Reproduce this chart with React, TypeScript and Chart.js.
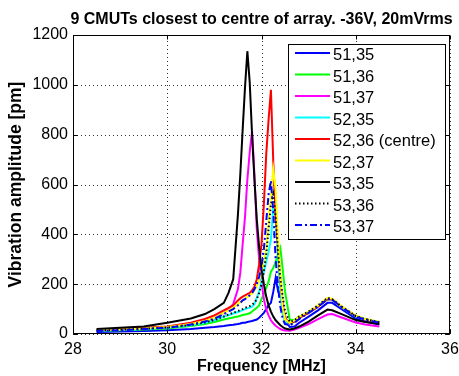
import React, { useEffect, useRef } from "react";
import { Chart, registerables } from "chart.js";

Chart.register(...registerables);

// ---------- data ----------
const FREQ_MHZ = [
  28.5, 29.0, 29.5, 30.0, 30.5, 30.8, 31.0, 31.2, 31.3, 31.4,
  31.5, 31.55, 31.6, 31.65, 31.7, 31.75, 31.8, 31.85, 31.9, 31.95,
  32.0, 32.05, 32.1, 32.15, 32.2, 32.25, 32.3, 32.35, 32.4, 32.45,
  32.5, 32.6, 32.7, 32.8, 33.0, 33.2, 33.4, 33.5, 33.7, 34.0,
  34.2, 34.5,
];

const S_51_35 = [
  8, 10, 12, 15, 20, 25, 28, 32, 35, 37,
  40, 42, 45, 45, 48, 50, 52, 55, 58, 65,
  75, 85, 100, 115, 125, 170, 225, 175, 190, 100,
  55, 28, 30, 45, 70, 95, 125, 125, 100, 62,
  50, 38,
];
const S_51_36 = [
  12, 15, 18, 22, 32, 40, 48, 58, 62, 66,
  70, 73, 76, 78, 80, 83, 90, 98, 105, 115,
  140, 160, 185, 210, 250, 265, 290, 320, 345, 260,
  170, 58, 55, 70, 88, 112, 140, 138, 110, 72,
  60, 48,
];
const S_51_37 = [
  15, 18, 22, 28, 40, 52, 65, 85, 100, 120,
  180, 245, 360, 470, 620, 730, 815, 640, 420, 300,
  210, 140, 100, 75, 55, 43, 33, 26, 20, 16,
  14, 13, 18, 25, 40, 60, 78, 80, 66, 46,
  38, 30,
];
const S_52_35 = [
  13, 16, 20, 25, 35, 45, 55, 70, 75, 82,
  88, 92, 96, 100, 103, 106, 110, 120, 145, 170,
  210, 250, 290, 330, 380, 510, 470, 300, 155, 80,
  50, 40, 50, 65, 85, 110, 140, 137, 108, 70,
  58, 46,
];
const S_52_36 = [
  15, 20, 25, 30, 45, 60, 75, 95, 105, 115,
  135, 143, 150, 155, 160, 165, 175, 190, 220, 280,
  360, 520, 720, 860, 980, 690, 480, 360, 217, 120,
  65, 42, 50, 65, 85, 110, 140, 138, 110, 72,
  58, 46,
];
const S_52_37 = [
  15, 18, 22, 28, 40, 52, 65, 85, 95, 105,
  120, 128, 135, 142, 148, 155, 162, 175, 190, 215,
  250, 290, 340, 450, 560, 660, 580, 390, 230, 110,
  58, 45, 55, 70, 90, 115, 145, 142, 112, 74,
  60, 48,
];
const S_53_35 = [
  20, 25, 30, 45, 62, 80, 100, 125, 165, 220,
  480, 640, 820, 990, 1135, 1010, 800, 620, 460, 350,
  260, 200, 150, 115, 90, 70, 55, 45, 35, 28,
  22, 18, 22, 30, 50, 75, 98, 95, 80, 56,
  48, 40,
];
const S_53_36 = [
  14, 17, 21, 26, 36, 46, 56, 70, 78, 85,
  92, 96, 100, 105, 108, 112, 118, 125, 140, 165,
  200, 250, 320, 420, 520, 560, 470, 330, 220, 150,
  90, 48, 55, 70, 90, 115, 145, 140, 110, 72,
  60, 47,
];
const S_53_37 = [
  12, 15, 20, 25, 38, 50, 62, 80, 90, 100,
  115, 125, 135, 140, 148, 155, 165, 180, 200, 230,
  270, 340, 450, 560, 615, 490, 300, 190, 110, 60,
  40, 35, 45, 60, 85, 110, 140, 138, 108, 70,
  58, 45,
];

const SERIES_VALUES = [
  S_51_35, S_51_36, S_51_37, S_52_35, S_52_36, S_52_37, S_53_35, S_53_36, S_53_37,
];
const SERIES_LABELS = [
  "51,35", "51,36", "51,37", "52,35", "52,36 (centre)", "52,37", "53,35", "53,36", "53,37",
];
const SERIES_COLORS = [
  "#0000ff", "#00ff00", "#ff00ff", "#00ffff", "#ff0000", "#ffff00", "#000000", "#000000", "#0000ff",
];
const SERIES_DASH: number[][] = [[], [], [], [], [], [], [], [1.5, 2.5], [7, 3, 2, 3]];

const X_TICKS = [28, 30, 32, 34, 36];
const Y_TICKS = [0, 200, 400, 600, 800, 1000, 1200];

const TITLE = "9 CMUTs closest to centre of array. -36V, 20mVrms";
const X_LABEL = "Frequency [MHz]";
const Y_LABEL = "Vibration amplitude [pm]";

const FONT = '"Liberation Sans", Arial, Helvetica, sans-serif';

// ---------- dotted grid (under the data) ----------
const gridPlugin = {
  id: "dottedGrid",
  beforeDatasetsDraw(chart: any) {
    const { ctx, chartArea: a, scales } = chart;
    ctx.save();
    ctx.strokeStyle = "rgba(0,0,0,0.8)";
    ctx.lineWidth = 1;
    ctx.setLineDash([1, 3]);
    ctx.beginPath();
    X_TICKS.forEach((v) => {
      const px = Math.round(scales.x.getPixelForValue(v)) + 0.5;
      ctx.moveTo(px, a.bottom);
      ctx.lineTo(px, a.top);
    });
    Y_TICKS.forEach((v) => {
      const py = Math.round(scales.y.getPixelForValue(v)) + 0.5;
      ctx.moveTo(a.left, py);
      ctx.lineTo(a.right, py);
    });
    ctx.stroke();
    ctx.restore();
  },
};

// ---------- decorations (box, inward ticks, titles, legend) ----------
const decorPlugin = {
  id: "decor",
  afterDraw(chart: any) {
    const { ctx, chartArea: a, scales } = chart;
    const xs = scales.x;
    const ys = scales.y;
    ctx.save();

    ctx.strokeStyle = "#000";
    ctx.lineWidth = 1;
    ctx.setLineDash([]);
    const L = Math.round(a.left) + 0.5;
    const T = Math.round(a.top) + 0.5;
    const R = Math.round(a.right) - 0.5;
    const B = Math.round(a.bottom) - 0.5;
    ctx.strokeRect(L, T, R - L, B - T);

    ctx.beginPath();
    X_TICKS.forEach((v) => {
      const px = Math.round(xs.getPixelForValue(v)) + 0.5;
      ctx.moveTo(px, B);
      ctx.lineTo(px, B - 4);
      ctx.moveTo(px, T);
      ctx.lineTo(px, T + 4);
    });
    Y_TICKS.forEach((v) => {
      const py = Math.round(ys.getPixelForValue(v)) + 0.5;
      ctx.moveTo(L, py);
      ctx.lineTo(L + 4, py);
      ctx.moveTo(R, py);
      ctx.lineTo(R - 4, py);
    });
    ctx.stroke();

    ctx.fillStyle = "#000";
    ctx.font = `bold 16px ${FONT}`;
    ctx.textAlign = "center";
    ctx.textBaseline = "alphabetic";
    const cx = (a.left + a.right) / 2;
    ctx.fillText(TITLE, cx, 24);
    ctx.fillText(X_LABEL, cx, 371);
    ctx.save();
    ctx.font = `bold 17.5px ${FONT}`;
    ctx.translate(21, (a.top + a.bottom) / 2);
    ctx.rotate(-Math.PI / 2);
    ctx.fillText(Y_LABEL, 0, 0);
    ctx.restore();

    const bx = 288.5, by = 44.5, bw = 157, bh = 195;
    ctx.fillStyle = "#fff";
    ctx.fillRect(bx, by, bw, bh);
    ctx.strokeStyle = "#000";
    ctx.lineWidth = 1;
    ctx.strokeRect(bx, by, bw, bh);
    ctx.font = `16.5px ${FONT}`;
    ctx.textAlign = "left";
    ctx.textBaseline = "middle";
    SERIES_LABELS.forEach((lab, i) => {
      const ty = 55.5 + i * 21.5;
      ctx.strokeStyle = SERIES_COLORS[i];
      ctx.lineWidth = 2;
      ctx.setLineDash(SERIES_DASH[i]);
      ctx.beginPath();
      ctx.moveTo(295, ty - 2.5);
      ctx.lineTo(330, ty - 2.5);
      ctx.stroke();
      ctx.setLineDash([]);
      ctx.fillStyle = "#000";
      ctx.fillText(lab, 333, ty);
    });

    ctx.restore();
  },
};

export default function App() {
  const canvasRef = useRef<HTMLCanvasElement | null>(null);

  useEffect(() => {
    const canvas = canvasRef.current;
    if (!canvas) return;
    const n = SERIES_VALUES.length;
    const datasets = SERIES_VALUES.map((vals, i) => ({
      label: SERIES_LABELS[i],
      data: FREQ_MHZ.map((f, k) => ({ x: f, y: vals[k] })),
      borderColor: SERIES_COLORS[i],
      backgroundColor: SERIES_COLORS[i],
      borderWidth: 2,
      borderDash: SERIES_DASH[i],
      pointRadius: 0,
      tension: 0,
      fill: false,
      order: n - 1 - i,
    }));

    const chart = new Chart(canvas, {
      type: "line",
      data: { datasets },
      options: {
        responsive: false,
        animation: false,
        devicePixelRatio: 1,
        layout: { padding: { left: 0, right: 9, top: 35, bottom: 0 } },
        plugins: {
          legend: { display: false },
          title: { display: false },
          tooltip: { enabled: false },
        },
        scales: {
          x: {
            type: "linear",
            min: 28,
            max: 36,
            afterBuildTicks: (s: any) => {
              s.ticks = X_TICKS.map((v) => ({ value: v }));
            },
            afterFit: (s: any) => {
              s.height = 42;
              s.paddingLeft = 0;
              s.paddingRight = 0;
            },
            ticks: {
              color: "#000",
              font: { family: FONT, size: 16 },
              padding: 6,
              maxRotation: 0,
              autoSkip: false,
              callback: (v: any) => String(v),
            },
            grid: { display: false, drawTicks: false },
            border: { display: false },
          },
          y: {
            type: "linear",
            min: 0,
            max: 1200,
            afterBuildTicks: (s: any) => {
              s.ticks = Y_TICKS.map((v) => ({ value: v }));
            },
            afterFit: (s: any) => {
              s.width = 73;
              s.paddingTop = 0;
              s.paddingBottom = 0;
            },
            ticks: {
              color: "#000",
              font: { family: FONT, size: 16 },
              padding: 5,
              autoSkip: false,
              callback: (v: any) => String(v),
            },
            grid: { display: false, drawTicks: false },
            border: { display: false },
          },
        },
      },
      plugins: [gridPlugin, decorPlugin],
    });

    return () => chart.destroy();
  }, []);

  return (
    <div style={{ position: "absolute", left: 0, top: 0, width: 459, height: 376, background: "#fff" }}>
      <canvas ref={canvasRef} width={459} height={376} style={{ display: "block", width: 459, height: 376 }} />
    </div>
  );
}
